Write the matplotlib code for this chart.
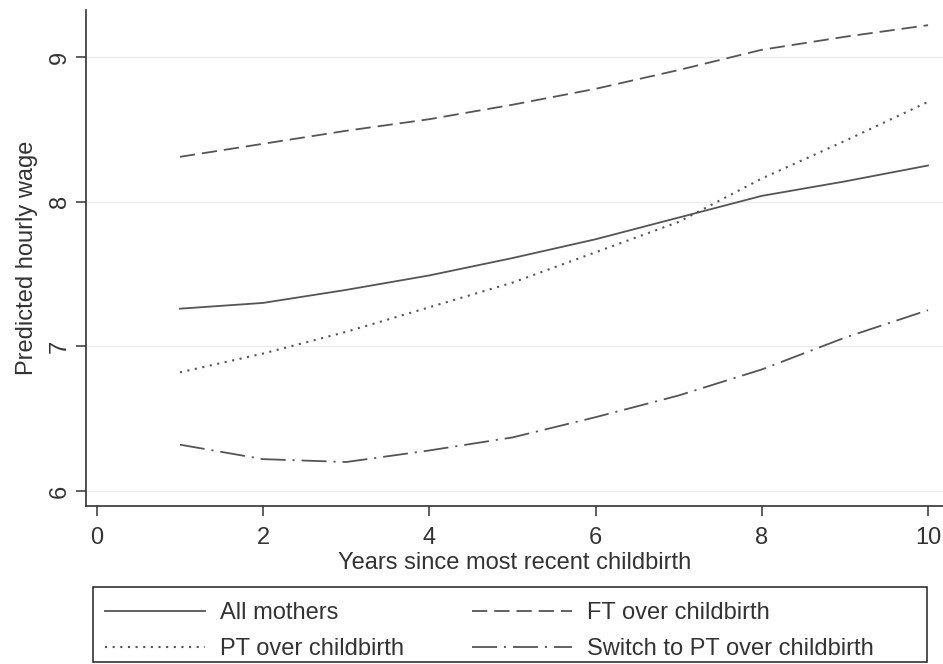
import matplotlib
matplotlib.use("Agg")
from matplotlib import pyplot as plt
from matplotlib.patches import Rectangle

# Predicted hourly wage by years since most recent childbirth
years = [1, 2, 3, 4, 5, 6, 7, 8, 9, 10]
all_mothers = [7.26, 7.30, 7.39, 7.49, 7.61, 7.74, 7.89, 8.04, 8.14, 8.25]
pt_over = [6.82, 6.95, 7.10, 7.27, 7.44, 7.65, 7.86, 8.16, 8.42, 8.69]
ft_over = [8.31, 8.40, 8.49, 8.57, 8.67, 8.78, 8.91, 9.05, 9.14, 9.22]
switch_pt = [6.32, 6.22, 6.20, 6.28, 6.37, 6.51, 6.66, 6.84, 7.06, 7.25]

x_ticks = [0, 2, 4, 6, 8, 10]
y_ticks = [6, 7, 8, 9]

plt.rcParams['font.family'] = ['Liberation Sans', 'DejaVu Sans']
plt.rcParams['lines.scale_dashes'] = False

LINE = '#555555'
TEXT = '#333333'
FS = 17

fig = plt.figure(figsize=(9.43, 6.64), dpi=100)
ax = fig.add_axes([86 / 943, 1 - 506 / 664, 1 - 86 / 943, (506 - 10) / 664])

ax.plot(years, all_mothers, color=LINE, lw=1.3, ls='-', label='All mothers')
ax.plot(years, pt_over, color=LINE, lw=1.5, ls=(0, (1.5, 4.0)), label='PT over childbirth')
ax.plot(years, ft_over, color=LINE, lw=1.3, ls=(0, (11, 5)), label='FT over childbirth')
ax.plot(years, switch_pt, color=LINE, lw=1.3, ls=(0, (18, 5, 1.5, 5)),
        label='Switch to PT over childbirth')

ax.set_xlim(-0.13, 10.18)
ax.set_ylim(5.896, 9.325)
ax.set_xticks(x_ticks)
ax.set_yticks(y_ticks)
ax.grid(axis='y', color='#ececec', lw=0.9)
ax.set_axisbelow(True)

for s in ['top', 'right']:
    ax.spines[s].set_visible(False)
for s in ['left', 'bottom']:
    ax.spines[s].set_color('#333333')
    ax.spines[s].set_linewidth(1.2)

ax.tick_params(axis='both', direction='out', length=7, width=1.1, color='#333333',
               labelsize=FS, labelcolor=TEXT, pad=4)
ax.tick_params(axis='x', pad=8)
for lab in ax.get_yticklabels():
    lab.set_rotation(90)
    lab.set_va('center')

ax.set_xlabel('Years since most recent childbirth', fontsize=FS, color=TEXT, labelpad=2)
ax.set_ylabel('Predicted hourly wage', fontsize=FS, color=TEXT, labelpad=8)

# legend box drawn separately, Stata style wide frame
fig.patches.append(Rectangle((93 / 943, 1 - 662 / 664), (927 - 93) / 943, (662 - 587) / 664,
                             transform=fig.transFigure, fill=False,
                             edgecolor='#222222', lw=1.1))

handles, labels = ax.get_legend_handles_labels()
leg = fig.legend(handles, labels, loc='upper left',
                 bbox_to_anchor=(105 / 943, 1 - 602 / 664),
                 ncol=2, fontsize=FS, frameon=False,
                 handlelength=4.24, handletextpad=0.62, columnspacing=2.9,
                 labelspacing=0.6, borderpad=0, borderaxespad=0)
for t in leg.get_texts():
    t.set_color(TEXT)

fig.savefig('out.png', dpi=100)
